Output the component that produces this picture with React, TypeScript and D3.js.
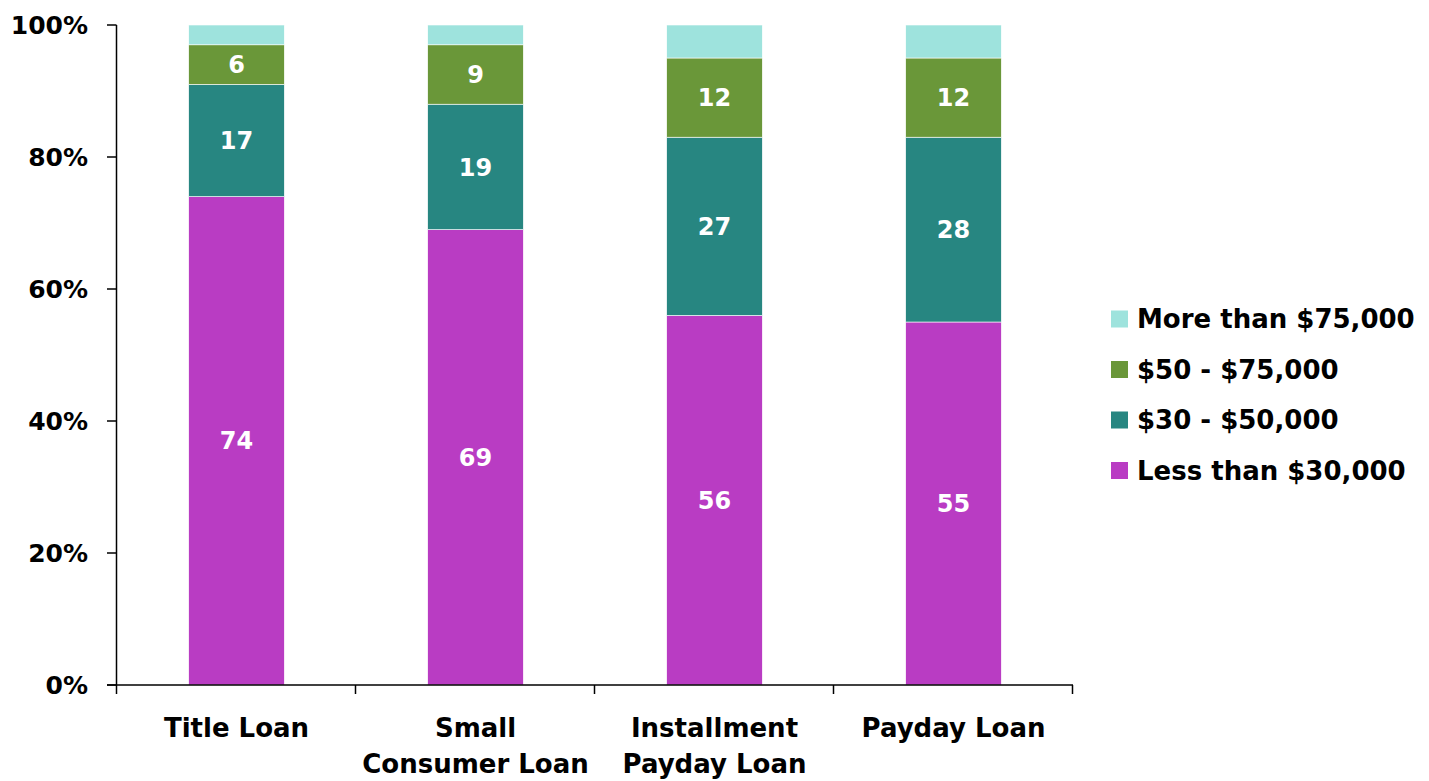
import React, { useEffect, useRef } from 'react';
import * as d3 from 'd3';

const categories = [['Title Loan'], ['Small', 'Consumer Loan'], ['Installment', 'Payday Loan'], ['Payday Loan']];
const seriesNames = ['Less than $30,000', '$30 - $50,000', '$50 - $75,000', 'More than $75,000'];
const seriesColors = ['#B93CC3', '#278681', '#6A9739', '#9EE3DD'];
// values per series, one per category
const lessThan30 = [74, 69, 56, 55];
const from30to50 = [17, 19, 27, 28];
const from50to75 = [6, 9, 12, 12];
const moreThan75 = [3, 3, 5, 5];
const showLabel = [true, true, true, false];
const yTicks = [0, 20, 40, 60, 80, 100];

const W = 1429;
const H = 781;
const FONT = '"DejaVu Sans", sans-serif';

export default function App() {
  const ref = useRef<SVGSVGElement>(null);

  useEffect(() => {
    if (!ref.current) return;
    const svg = d3.select(ref.current);
    svg.selectAll('*').remove();

    const left = 117, right = 1073, top = 25, bottom = 685;
    const keys = categories.map((c) => c.join(' '));
    const x = d3.scaleBand().domain(keys).range([left, right]).paddingInner(0.6).paddingOuter(0.3);
    const band = (right - left) / keys.length;
    const y = d3.scaleLinear().domain([0, 100]).range([bottom, top]);

    const rows = keys.map((k, i) => ({
      key: k,
      s0: lessThan30[i],
      s1: from30to50[i],
      s2: from50to75[i],
      s3: moreThan75[i],
    }));
    const stack = d3.stack<any>().keys(['s0', 's1', 's2', 's3'])(rows);

    const g = svg.append('g');
    stack.forEach((layer, li) => {
      layer.forEach((d: any) => {
        g.append('rect')
          .attr('x', x(d.data.key)!)
          .attr('width', x.bandwidth())
          .attr('y', y(d[1]))
          .attr('height', y(d[0]) - y(d[1]))
          .attr('fill', seriesColors[li])
          .attr('stroke', '#ffffff')
          .attr('stroke-width', 0.6);
        if (showLabel[li]) {
          g.append('text')
            .attr('x', x(d.data.key)! + x.bandwidth() / 2)
            .attr('y', (y(d[0]) + y(d[1])) / 2)
            .attr('dy', '0.36em')
            .attr('text-anchor', 'middle')
            .attr('font-family', FONT)
            .attr('font-weight', 'bold')
            .attr('font-size', 24)
            .attr('fill', '#ffffff')
            .text(d[1] - d[0]);
        }
      });
    });

    // y axis
    const ax = svg.append('g').attr('stroke', '#000').attr('stroke-width', 1.5);
    ax.append('line').attr('x1', left - 0.5).attr('x2', left - 0.5).attr('y1', top).attr('y2', bottom);
    yTicks.forEach((t) => {
      ax.append('line').attr('x1', left - 10).attr('x2', left - 0.5).attr('y1', y(t)).attr('y2', y(t));
      svg.append('text')
        .attr('x', 88)
        .attr('y', y(t))
        .attr('dy', '0.36em')
        .attr('text-anchor', 'end')
        .attr('font-family', FONT)
        .attr('font-weight', 'bold')
        .attr('font-size', 25)
        .attr('fill', '#000')
        .text(`${t}%`);
    });

    // x axis
    ax.append('line').attr('x1', left - 10).attr('x2', right).attr('y1', bottom).attr('y2', bottom);
    for (let i = 0; i <= keys.length; i++) {
      const xx = left - 0.5 + i * band;
      ax.append('line').attr('x1', xx).attr('x2', xx).attr('y1', bottom).attr('y2', bottom + 9);
    }
    categories.forEach((lines, i) => {
      const cx = x(keys[i])! + x.bandwidth() / 2;
      lines.forEach((ln, j) => {
        svg.append('text')
          .attr('x', cx)
          .attr('y', 737 + j * 36)
          .attr('text-anchor', 'middle')
          .attr('font-family', FONT)
          .attr('font-weight', 'bold')
          .attr('font-size', 26)
          .attr('fill', '#000')
          .text(ln);
      });
    });

    // legend
    const order = [3, 2, 1, 0];
    order.forEach((si, r) => {
      const cy = 319 + r * 50.5;
      svg.append('rect').attr('x', 1111).attr('y', cy - 8.5).attr('width', 17).attr('height', 17).attr('fill', seriesColors[si]);
      svg.append('text')
        .attr('x', 1137)
        .attr('y', cy)
        .attr('dy', '0.36em')
        .attr('font-family', FONT)
        .attr('font-weight', 'bold')
        .attr('font-size', 26)
        .attr('fill', '#000')
        .text(seriesNames[si]);
    });
  }, []);

  return (
    <svg
      ref={ref}
      width={W}
      height={H}
      style={{ position: 'absolute', left: 0, top: 0, background: '#fff' }}
    />
  );
}
